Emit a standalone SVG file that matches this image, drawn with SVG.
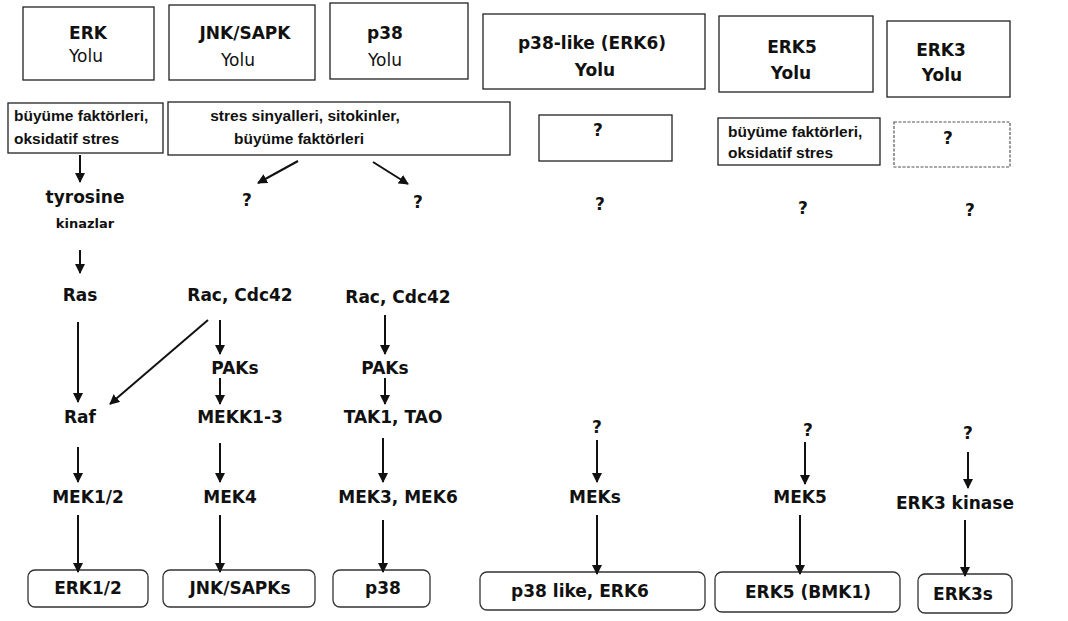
<svg xmlns="http://www.w3.org/2000/svg" width="1068" height="621" viewBox="0 0 1068 621">
<style>
  .box{fill:#fff;stroke:#222;stroke-width:1.3}
  .fbox{fill:#fff;stroke:#555;stroke-width:1.2;stroke-dasharray:3 1.5}
  .rbox{fill:#fff;stroke:#333;stroke-width:1.3}
  .h{font-family:"DejaVu Sans",sans-serif;font-weight:bold;font-size:17px;fill:#111;text-anchor:middle}
  .y{font-family:"DejaVu Sans",sans-serif;font-size:17px;fill:#111;text-anchor:middle}
  .t{font-family:"DejaVu Sans",sans-serif;font-weight:bold;font-size:17px;fill:#111;text-anchor:middle}
  .s{font-family:"Liberation Sans",sans-serif;font-weight:bold;font-size:15.5px;fill:#111}
  .k{font-family:"DejaVu Sans",sans-serif;font-weight:bold;font-size:13px;fill:#111;text-anchor:middle}
  .c line{stroke:#111;stroke-width:2;marker-end:url(#ah)}
</style>
<defs>
  <marker id="ah" markerWidth="10" markerHeight="10" refX="9" refY="5" orient="auto" markerUnits="userSpaceOnUse">
    <path d="M0,0 L10,5 L0,10 Z" fill="#111"/>
  </marker>
</defs>
<rect width="1068" height="621" fill="#fff"/>

<g id="h-erk"><rect class="box" x="23" y="7" width="131" height="73"/><text class="h" x="88" y="39">ERK</text><text class="y" x="86" y="62">Yolu</text></g>
<g id="h-jnk"><rect class="box" x="169" y="5" width="146" height="75"/><text class="h" x="245" y="39">JNK/SAPK</text><text class="y" x="238" y="66">Yolu</text></g>
<g id="h-p38"><rect class="box" x="330" y="3" width="138" height="76"/><text class="h" x="385" y="39">p38</text><text class="y" x="385" y="66">Yolu</text></g>
<g id="h-p38l"><rect class="box" x="483" y="14" width="222" height="75"/><text class="h" x="592" y="49">p38-like (ERK6)</text><text class="h" x="595" y="76">Yolu</text></g>
<g id="h-erk5"><rect class="box" x="719" y="16" width="154" height="76"/><text class="h" x="792" y="53">ERK5</text><text class="h" x="791" y="79">Yolu</text></g>
<g id="h-erk3"><rect class="box" x="887" y="21" width="123" height="76"/><text class="h" x="941" y="56">ERK3</text><text class="h" x="942" y="81">Yolu</text></g>

<g id="s-erk"><rect class="box" x="8" y="103" width="155" height="50"/><text class="s" x="14" y="121">büyüme faktörleri,</text><text class="s" x="14" y="144">oksidatif stres</text></g>
<g id="s-jnk"><rect class="box" x="168" y="102" width="342" height="53"/><text class="s" x="305" y="121" text-anchor="middle">stres sinyalleri, sitokinler,</text><text class="s" x="299" y="144" text-anchor="middle">büyüme faktörleri</text></g>
<g id="s-p38l"><rect class="box" x="539" y="115" width="133" height="46"/><text class="t" x="598" y="136">?</text></g>
<g id="s-erk5"><rect class="box" x="718" y="118" width="162" height="47"/><text class="s" x="728" y="137">büyüme faktörleri,</text><text class="s" x="728" y="158">oksidatif stres</text></g>
<g id="s-erk3"><rect class="fbox" x="894" y="122" width="116" height="45"/><text class="t" x="948" y="144">?</text></g>

<g id="n-tyr"><text class="t" x="85" y="203">tyrosine</text><text class="k" x="85" y="228">kinazlar</text></g>
<g id="n-q1"><text class="t" x="247" y="206">?</text></g>
<g id="n-q2"><text class="t" x="418" y="208">?</text></g>
<g id="n-q3"><text class="t" x="600" y="210">?</text></g>
<g id="n-q4"><text class="t" x="803" y="214">?</text></g>
<g id="n-q5"><text class="t" x="970" y="216">?</text></g>

<g id="n-ras"><text class="t" x="80" y="301">Ras</text></g>
<g id="n-rac1"><text class="t" x="240" y="301">Rac, Cdc42</text></g>
<g id="n-rac2"><text class="t" x="398" y="303">Rac, Cdc42</text></g>
<g id="n-pak1"><text class="t" x="235" y="374">PAKs</text></g>
<g id="n-pak2"><text class="t" x="385" y="374">PAKs</text></g>
<g id="n-raf"><text class="t" x="80" y="423">Raf</text></g>
<g id="n-mekk"><text class="t" x="240" y="423">MEKK1-3</text></g>
<g id="n-tak"><text class="t" x="393" y="423">TAK1, TAO</text></g>
<g id="n-q6"><text class="t" x="597" y="433">?</text></g>
<g id="n-q7"><text class="t" x="808" y="436">?</text></g>
<g id="n-q8"><text class="t" x="968" y="439">?</text></g>

<g id="n-mek12"><text class="t" x="88" y="503">MEK1/2</text></g>
<g id="n-mek4"><text class="t" x="230" y="503">MEK4</text></g>
<g id="n-mek36"><text class="t" x="398" y="503">MEK3, MEK6</text></g>
<g id="n-meks"><text class="t" x="595" y="503">MEKs</text></g>
<g id="n-mek5"><text class="t" x="800" y="503">MEK5</text></g>
<g id="n-erk3k"><text class="t" x="955" y="509">ERK3 kinase</text></g>

<g id="b-erk12"><rect class="rbox" x="28" y="570" width="120" height="37" rx="7"/><text class="t" x="88" y="594">ERK1/2</text></g>
<g id="b-jnk"><rect class="rbox" x="163" y="570" width="152" height="37" rx="7"/><text class="t" x="240" y="594">JNK/SAPKs</text></g>
<g id="b-p38"><rect class="rbox" x="333" y="570" width="97" height="37" rx="7"/><text class="t" x="383" y="594">p38</text></g>
<g id="b-p38l"><rect class="rbox" x="480" y="572" width="225" height="38" rx="7"/><text class="t" x="580" y="597">p38 like, ERK6</text></g>
<g id="b-erk5"><rect class="rbox" x="715" y="572" width="185" height="40" rx="7"/><text class="t" x="808" y="598">ERK5 (BMK1)</text></g>
<g id="b-erk3"><rect class="rbox" x="918" y="574" width="94" height="39" rx="7"/><text class="t" x="963" y="600">ERK3s</text></g>

<g id="connectors" class="c">
  <line x1="80" y1="155" x2="80" y2="182"/>
  <line x1="80" y1="250" x2="80" y2="273"/>
  <line x1="298" y1="161" x2="258" y2="183"/>
  <line x1="373" y1="162" x2="408" y2="184"/>
  <line x1="78" y1="322" x2="78" y2="402"/>
  <line x1="208" y1="320" x2="110" y2="404"/>
  <line x1="220" y1="320" x2="220" y2="354"/>
  <line x1="385" y1="315" x2="385" y2="354"/>
  <line x1="220" y1="378" x2="220" y2="404"/>
  <line x1="385" y1="378" x2="385" y2="404"/>
  <line x1="78" y1="447" x2="78" y2="482"/>
  <line x1="220" y1="443" x2="220" y2="482"/>
  <line x1="383" y1="438" x2="383" y2="482"/>
  <line x1="78" y1="515" x2="78" y2="572"/>
  <line x1="220" y1="515" x2="220" y2="572"/>
  <line x1="383" y1="520" x2="383" y2="572"/>
  <line x1="597" y1="440" x2="597" y2="482"/>
  <line x1="805" y1="442" x2="805" y2="484"/>
  <line x1="968" y1="452" x2="968" y2="488"/>
  <line x1="597" y1="515" x2="597" y2="574"/>
  <line x1="800" y1="515" x2="800" y2="574"/>
  <line x1="965" y1="520" x2="965" y2="576"/>
</g>
</svg>
